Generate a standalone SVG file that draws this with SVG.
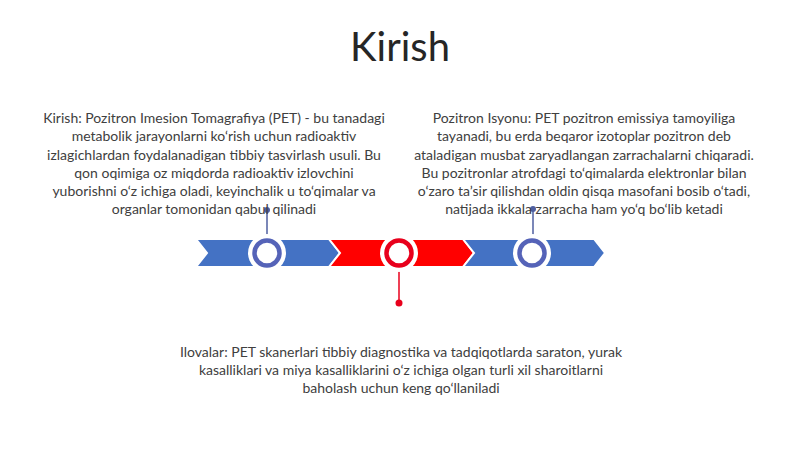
<svg xmlns="http://www.w3.org/2000/svg" width="800" height="449" viewBox="0 0 800 449">
<style>
.body{font-family:Lato,"Liberation Sans",sans-serif;font-size:14px;fill:#404040;text-anchor:middle}
.title{font-family:Lato,"Liberation Sans",sans-serif;font-size:40px;fill:#262626;text-anchor:middle}
.chev{stroke:#ffffff;stroke-width:2}
.blue{fill:#4472C4}
.red{fill:#FF0000}
.halo{fill:#ffffff}
.ringB{fill:#ffffff;stroke:#5563B8;stroke-width:4.5}
.ringR{fill:#ffffff;stroke:#E8001C;stroke-width:4.5}
.pinB{stroke:#4F5FA0;stroke-width:1.5}
.pinR{stroke:#E8001C;stroke-width:1.5}
</style>
<rect width="800" height="449" fill="#ffffff"/>
<text class="title" x="400" y="61">Kirish</text>
<g id="timeline">
<polygon class="chev blue" points="196,239 329,239 340,253 329,267 196,267 207,253"/>
<polygon class="chev red" points="329,239 463,239 474,253 463,267 329,267 340,253"/>
<polygon class="chev blue" points="463,239 594,239 605,253 594,267 463,267 474,253"/>
</g>
<g id="connectors">
<line class="pinB" x1="267" y1="210" x2="267" y2="236"/>
<circle cx="267" cy="210" r="3" fill="#4F5FA0"/>
<line class="pinB" x1="533" y1="209" x2="533" y2="236"/>
<circle cx="533" cy="209" r="3" fill="#4F5FA0"/>
<line class="pinR" x1="399" y1="270" x2="399" y2="303"/>
<circle cx="399" cy="303" r="3.5" fill="#E8001C"/>
</g>
<g id="node1">
<circle class="halo" cx="267" cy="253" r="19"/>
<circle class="ringB" cx="267" cy="253" r="12.5"/>
<text class="body" x="214" y="123">Kirish: Pozitron Imesion Tomagrafiya (PET) - bu tanadagi</text>
<text class="body" x="214" y="141">metabolik jarayonlarni ko‘rish uchun radioaktiv</text>
<text class="body" x="214" y="160">izlagichlardan foydalanadigan tibbiy tasvirlash usuli. Bu</text>
<text class="body" x="214" y="178">qon oqimiga oz miqdorda radioaktiv izlovchini</text>
<text class="body" x="214" y="196">yuborishni o‘z ichiga oladi, keyinchalik u to‘qimalar va</text>
<text class="body" x="214" y="214">organlar tomonidan qabul qilinadi</text>
</g>
<g id="node2">
<circle class="halo" cx="399" cy="253" r="19"/>
<circle class="ringR" cx="399" cy="253" r="12.5"/>
<text class="body" x="401" y="357">Ilovalar: PET skanerlari tibbiy diagnostika va tadqiqotlarda saraton, yurak</text>
<text class="body" x="401" y="375">kasalliklari va miya kasalliklarini o‘z ichiga olgan turli xil sharoitlarni</text>
<text class="body" x="401" y="393">baholash uchun keng qo‘llaniladi</text>
</g>
<g id="node3">
<circle class="halo" cx="532" cy="253" r="19"/>
<circle class="ringB" cx="532" cy="253" r="12.5"/>
<text class="body" x="584" y="123">Pozitron Isyonu: PET pozitron emissiya tamoyiliga</text>
<text class="body" x="584" y="141">tayanadi, bu erda beqaror izotoplar pozitron deb</text>
<text class="body" x="584" y="160">ataladigan musbat zaryadlangan zarrachalarni chiqaradi.</text>
<text class="body" x="584" y="178">Bu pozitronlar atrofdagi to‘qimalarda elektronlar bilan</text>
<text class="body" x="584" y="196">o‘zaro ta’sir qilishdan oldin qisqa masofani bosib o‘tadi,</text>
<text class="body" x="584" y="214">natijada ikkala zarracha ham yo‘q bo‘lib ketadi</text>
</g>
</svg>
